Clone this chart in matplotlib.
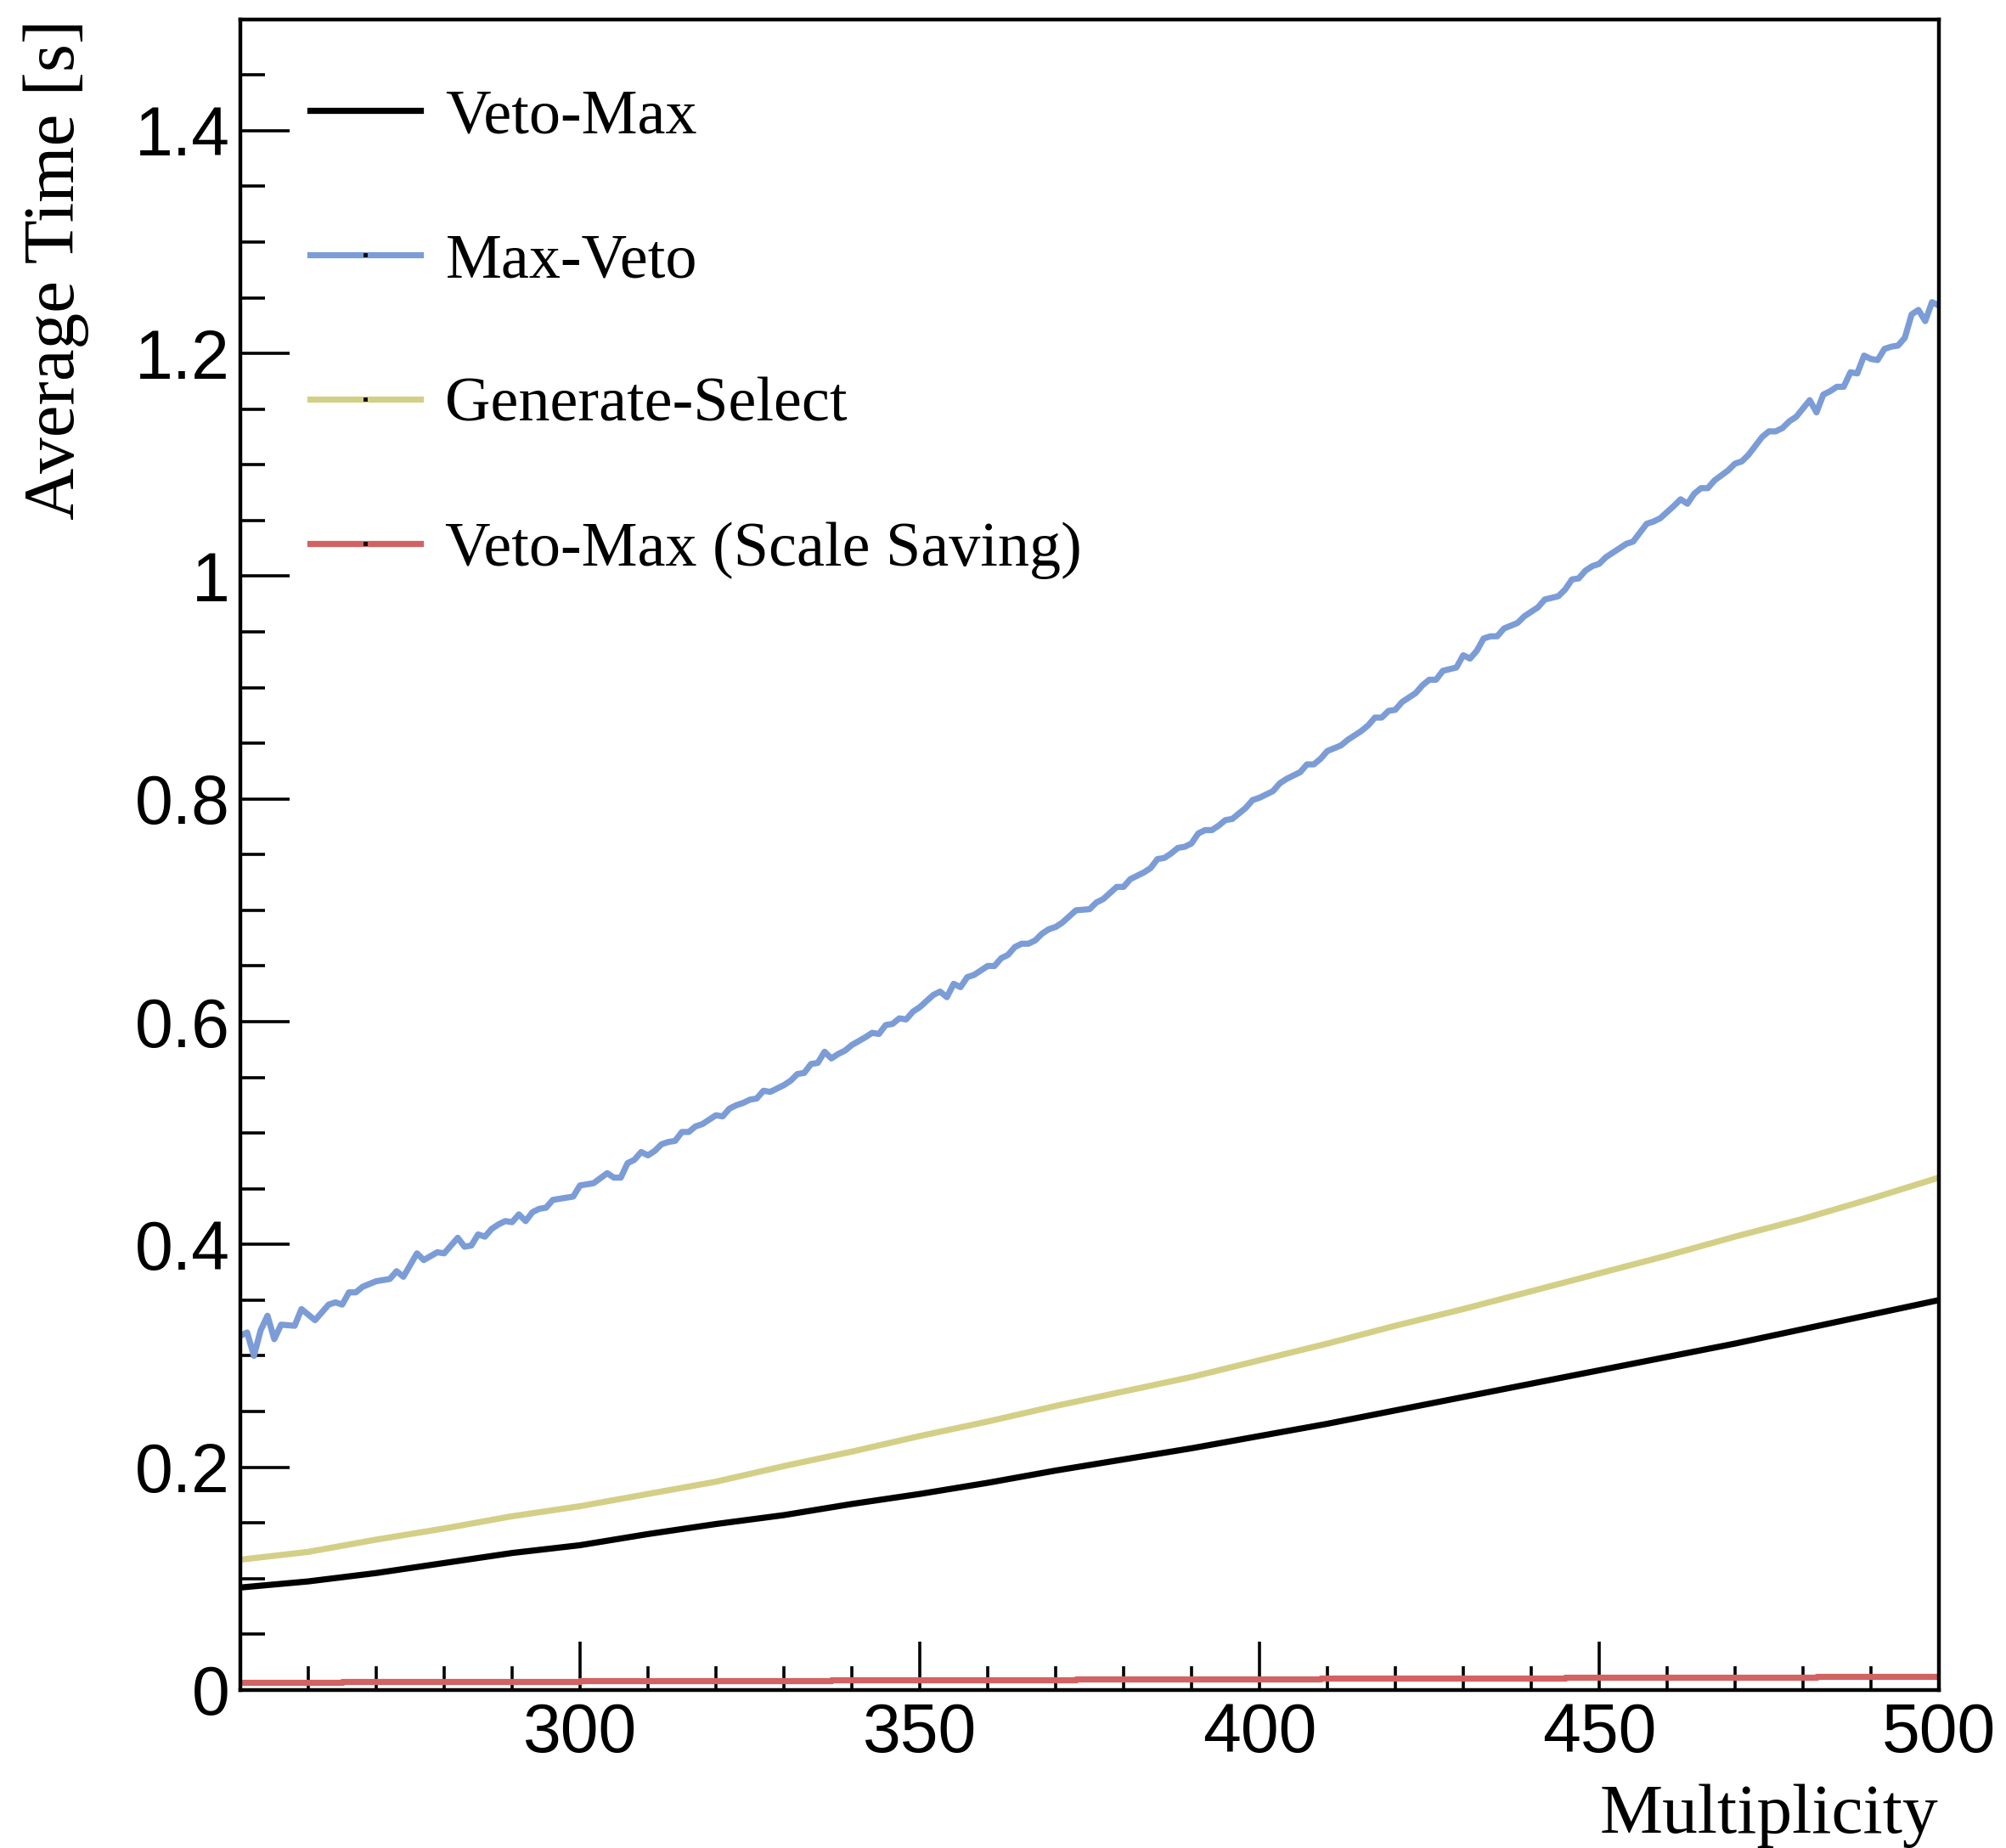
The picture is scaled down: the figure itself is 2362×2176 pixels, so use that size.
import numpy as np
import matplotlib
matplotlib.use('Agg')
import matplotlib.pyplot as plt
from matplotlib.lines import Line2D
from matplotlib.ticker import FixedLocator, MultipleLocator, FormatStrFormatter

# Max-Veto (blue)
blue_x = [250, 251, 252, 253, 254, 255, 256, 258, 259, 261, 263, 264, 265, 266, 267, 268, 270, 272, 273, 274,
          276, 277, 279, 280, 282, 283, 284, 285, 286, 287, 288, 289, 290, 291, 292, 293, 294, 295, 296, 297,
          299, 300, 302, 304, 305, 306, 307, 308, 309, 310, 311, 312, 313, 314, 315, 316, 317, 318, 320, 321,
          322, 323, 324, 325, 326, 327, 328, 329, 330, 331, 332, 333, 334, 335, 336, 337, 338, 339, 340, 342,
          343, 344, 345, 346, 347, 348, 349, 350, 352, 353, 354, 355, 356, 357, 358, 360, 361, 362, 363, 364,
          365, 366, 367, 368, 369, 370, 371, 373, 375, 376, 377, 379, 380, 381, 383, 384, 385, 386, 387, 388,
          389, 390, 391, 392, 393, 394, 395, 396, 397, 398, 399, 400, 401, 402, 403, 404, 406, 407, 408, 409,
          410, 412, 413, 415, 416, 417, 418, 419, 420, 421, 422, 423, 424, 425, 426, 427, 429, 430, 431, 432,
          433, 434, 435, 436, 438, 439, 441, 442, 444, 445, 446, 447, 448, 449, 450, 451, 452, 453, 454, 455,
          457, 458, 459, 461, 462, 463, 464, 465, 466, 467, 469, 470, 471, 472, 474, 475, 476, 477, 478, 479,
          481, 482, 483, 484, 485, 486, 487, 488, 489, 490, 491, 492, 493, 494, 495, 496, 497, 498, 499, 500]
blue_y = [0.318, 0.321, 0.300, 0.323, 0.336, 0.315, 0.328, 0.327, 0.342, 0.332, 0.346, 0.348, 0.346, 0.357, 0.357, 0.362, 0.367, 0.369, 0.376, 0.371,
          0.392, 0.386, 0.393, 0.392, 0.406, 0.398, 0.399, 0.409, 0.407, 0.414, 0.418, 0.421, 0.420, 0.427, 0.421, 0.429, 0.432, 0.433, 0.440, 0.441,
          0.443, 0.453, 0.455, 0.464, 0.460, 0.460, 0.473, 0.476, 0.483, 0.480, 0.484, 0.490, 0.492, 0.493, 0.501, 0.501, 0.506, 0.508, 0.516, 0.515,
          0.522, 0.525, 0.527, 0.530, 0.531, 0.538, 0.537, 0.540, 0.543, 0.547, 0.553, 0.554, 0.562, 0.563, 0.573, 0.567, 0.571, 0.574, 0.579, 0.586,
          0.590, 0.589, 0.597, 0.598, 0.603, 0.602, 0.609, 0.613, 0.624, 0.627, 0.622, 0.634, 0.631, 0.640, 0.642, 0.650, 0.650, 0.657, 0.660, 0.667,
          0.670, 0.670, 0.673, 0.679, 0.683, 0.685, 0.689, 0.700, 0.701, 0.707, 0.710, 0.721, 0.721, 0.728, 0.734, 0.738, 0.746, 0.747, 0.751, 0.756,
          0.757, 0.760, 0.769, 0.772, 0.772, 0.776, 0.781, 0.782, 0.787, 0.792, 0.799, 0.801, 0.804, 0.807, 0.814, 0.818, 0.824, 0.831, 0.831, 0.836,
          0.843, 0.848, 0.853, 0.861, 0.866, 0.873, 0.873, 0.879, 0.880, 0.887, 0.891, 0.895, 0.902, 0.907, 0.907, 0.915, 0.918, 0.929, 0.926, 0.933,
          0.944, 0.946, 0.946, 0.953, 0.958, 0.964, 0.972, 0.979, 0.982, 0.988, 0.997, 0.998, 1.005, 1.009, 1.011, 1.017, 1.021, 1.025, 1.029, 1.031,
          1.047, 1.049, 1.052, 1.063, 1.069, 1.065, 1.074, 1.079, 1.079, 1.086, 1.095, 1.101, 1.103, 1.109, 1.125, 1.130, 1.130, 1.133, 1.139, 1.143,
          1.158, 1.147, 1.163, 1.166, 1.170, 1.170, 1.183, 1.182, 1.198, 1.195, 1.194, 1.204, 1.206, 1.207, 1.214, 1.235, 1.239, 1.229, 1.246, 1.243]

# Veto-Max (black) and Generate-Select (yellow), every 10
mult = [250, 260, 270, 280, 290, 300, 310, 320, 330, 340, 350, 360, 370,
        380, 390, 400, 410, 420, 430, 440, 450, 460, 470, 480, 490, 500]
vetomax = [0.092, 0.0975, 0.105, 0.114, 0.123, 0.130, 0.140, 0.149, 0.157, 0.167, 0.176, 0.186, 0.197,
           0.207, 0.217, 0.228, 0.239, 0.251, 0.263, 0.275, 0.287, 0.299, 0.311, 0.324, 0.337, 0.350]
gensel = [0.117, 0.124, 0.135, 0.145, 0.156, 0.165, 0.176, 0.187, 0.201, 0.214, 0.228, 0.241, 0.255,
          0.268, 0.281, 0.296, 0.311, 0.327, 0.342, 0.358, 0.374, 0.390, 0.407, 0.423, 0.441, 0.460]

# Veto-Max (Scale Saving) (red), small steps
red_x = [250, 265, 300, 337, 373, 409, 445, 482, 500]
red_y = [0.0068, 0.0076, 0.0080, 0.0088, 0.0097, 0.0105, 0.0113, 0.0122, 0.0125]

labels = ['Veto-Max', 'Max-Veto', 'Generate-Select', 'Veto-Max (Scale Saving)']
colors = ['black', '#7B9CD6', '#D4CF86', '#D36262']

serif = 'Liberation Serif'
sans = 'Liberation Sans'

fig = plt.figure(figsize=(11.81, 10.88), dpi=200)
ax = fig.add_axes([0.1198, 0.0855, 0.8467, 0.9041])

lw = 2.6
ax.plot(mult, vetomax, color=colors[0], lw=lw)
ax.plot(blue_x, blue_y, color=colors[1], lw=lw)
ax.plot(mult, gensel, color=colors[2], lw=lw)
ax.plot(red_x, red_y, color=colors[3], lw=lw, drawstyle='steps-post')

ax.set_xlim(250, 500)
ax.set_ylim(0, 1.5)

ax.xaxis.set_major_locator(FixedLocator([300, 350, 400, 450, 500]))
ax.xaxis.set_minor_locator(MultipleLocator(10))
ax.yaxis.set_major_locator(FixedLocator([0, 0.2, 0.4, 0.6, 0.8, 1.0, 1.2, 1.4]))
ax.yaxis.set_minor_locator(MultipleLocator(0.05))
ax.yaxis.set_major_formatter(FormatStrFormatter('%g'))

ax.tick_params(which='both', direction='in', top=False, right=False, width=1.3, color='black')
ax.tick_params(axis='x', which='major', length=20.5, pad=5)
ax.tick_params(axis='x', which='minor', length=10.2)
ax.tick_params(axis='y', which='major', length=20.9, pad=4.5)
ax.tick_params(axis='y', which='minor', length=10.4)
for lab in ax.get_xticklabels() + ax.get_yticklabels():
    lab.set_fontfamily(sans)
    lab.set_fontsize(29)

for sp in ax.spines.values():
    sp.set_linewidth(1.6)

ax.set_xlabel('Multiplicity', fontsize=30, fontfamily=serif, loc='right')
ax.xaxis.label.set_va('baseline')
ax.xaxis.set_label_coords(1.0, -0.0854)
ax.set_ylabel('Average Time [s]', fontsize=30.6, fontfamily=serif, loc='top')
ax.yaxis.set_label_coords(-0.089, 1.0)

handles = [Line2D([], [], color=c, lw=lw, marker='s', ms=0.8, mfc='black', mec='black') for c in colors]
leg = ax.legend(handles, labels, loc='upper left', bbox_to_anchor=(0.041, 0.9585), frameon=False,
                prop={'family': serif, 'size': 26.7}, handlelength=1.75, handletextpad=0.4,
                labelspacing=1.375, borderpad=0, borderaxespad=0, numpoints=1)

fig.savefig('out.png', dpi=200)
